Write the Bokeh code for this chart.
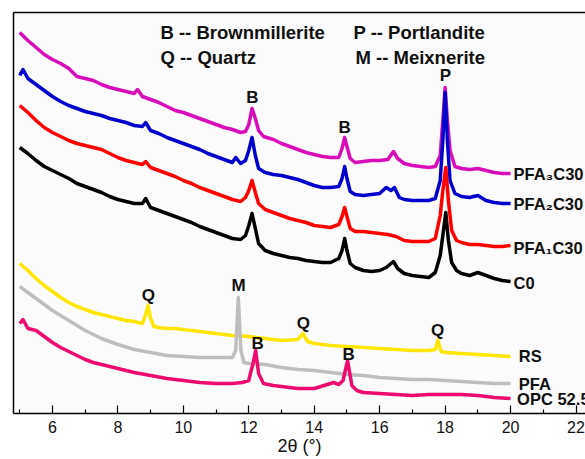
from bokeh.plotting import figure
from bokeh.models import FixedTicker, LinearAxis
from bokeh.core.properties import value
from bokeh.embed import file_html
from bokeh.resources import INLINE

# XRD patterns: 2θ (deg) and offset intensity (a.u.)
pfa3c30_x = [5.0, 5.25, 5.5, 5.75, 6.0, 6.25, 6.5, 6.75, 7.0, 7.25, 7.5, 7.75, 8.0, 8.25, 8.5, 8.6, 8.75,
             9.0, 9.25, 9.5, 9.75, 10.0, 10.25, 10.5, 10.75, 11.0, 11.25, 11.5, 11.75, 11.9, 12.0, 12.1,
             12.2, 12.3, 12.45, 12.75, 13.0, 13.25, 13.5, 13.75, 14.0, 14.25, 14.5, 14.75, 14.85, 14.93,
             15.0, 15.1, 15.25, 15.5, 15.75, 16.0, 16.25, 16.42, 16.55, 16.75, 17.0, 17.25, 17.5, 17.7,
             17.85, 17.93, 18.0, 18.07, 18.15, 18.3, 18.5, 18.75, 19.0, 19.25, 19.5, 19.75, 20.0]
pfa3c30_y = [381, 373, 366, 359, 354, 350, 345, 337, 335, 333, 329, 326, 324, 322, 320, 324, 317,
             314, 311, 307, 303, 301, 298, 295, 292, 289, 286, 284, 281, 282, 289, 305,
             295, 283, 277, 274, 270, 267, 264, 261, 259, 257, 256, 256, 265, 276,
             267, 255, 251, 252, 253, 253, 254, 262, 255, 250, 248, 247, 246, 247,
             258, 293, 326, 293, 263, 247, 245, 244, 245, 243, 241, 240, 240]

pfa2c30_x = [5.0, 5.1, 5.25, 5.5, 5.75, 6.0, 6.25, 6.5, 6.75, 7.0, 7.25, 7.5, 7.75, 8.0, 8.25, 8.5, 8.75,
             8.85, 9.0, 9.25, 9.5, 9.75, 10.0, 10.25, 10.5, 10.75, 11.0, 11.25, 11.5, 11.6, 11.75, 11.9,
             12.0, 12.1, 12.2, 12.3, 12.5, 12.75, 13.0, 13.25, 13.5, 13.75, 14.0, 14.25, 14.5, 14.75,
             14.85, 14.93, 15.0, 15.1, 15.25, 15.5, 15.75, 16.0, 16.2, 16.35, 16.45, 16.6, 16.75, 17.0,
             17.25, 17.5, 17.7, 17.85, 17.93, 18.0, 18.07, 18.15, 18.3, 18.5, 18.75, 19.0, 19.25, 19.5,
             19.75, 20.0]
pfa2c30_y = [338, 344, 335, 329, 323, 317, 312, 308, 305, 302, 300, 298, 295, 293, 291, 288, 287,
             291, 283, 280, 276, 273, 270, 267, 264, 260, 257, 254, 251, 256, 250, 253,
             263, 276, 258, 245, 241, 239, 238, 236, 234, 231, 228, 226, 226, 227,
             235, 247, 235, 222, 219, 218, 219, 220, 226, 223, 226, 216, 214, 213,
             213, 213, 215, 233, 273, 321, 273, 233, 220, 217, 216, 218, 213, 211,
             210, 210]

pfa1c30_x = [5.0, 5.25, 5.5, 5.75, 6.0, 6.25, 6.5, 6.75, 7.0, 7.25, 7.5, 7.75, 8.0, 8.25, 8.5, 8.75,
             8.85, 9.0, 9.25, 9.5, 9.75, 10.0, 10.25, 10.5, 10.75, 11.0, 11.25, 11.5, 11.75, 11.9,
             12.0, 12.1, 12.2, 12.3, 12.5, 12.75, 13.0, 13.25, 13.5, 13.75, 14.0, 14.25, 14.5, 14.75,
             14.85, 14.93, 15.0, 15.1, 15.25, 15.5, 15.75, 16.0, 16.25, 16.5, 16.75, 17.0, 17.25, 17.5,
             17.7, 17.85, 17.93, 18.02, 18.1, 18.2, 18.35, 18.5, 18.75, 19.0, 19.25, 19.5, 19.75, 20.0]
pfa1c30_y = [308, 301, 293, 286, 281, 277, 273, 270, 268, 266, 264, 260, 256, 253, 251, 249,
             252, 246, 243, 240, 237, 233, 230, 226, 223, 220, 217, 214, 212, 216,
             223, 233, 221, 210, 204, 201, 198, 195, 193, 191, 188, 187, 186, 189,
             197, 206, 197, 185, 182, 182, 181, 180, 179, 177, 173, 172, 172, 172,
             175, 198, 223, 246, 213, 183, 173, 171, 169, 169, 168, 167, 167, 168]

c0_x = [5.0, 5.25, 5.5, 5.75, 6.0, 6.25, 6.5, 6.75, 7.0, 7.25, 7.5, 7.75, 8.0, 8.25, 8.5, 8.75,
        8.85, 9.0, 9.25, 9.5, 9.75, 10.0, 10.25, 10.5, 10.75, 11.0, 11.25, 11.5, 11.75, 11.9,
        12.0, 12.1, 12.2, 12.3, 12.5, 12.75, 13.0, 13.25, 13.5, 13.75, 14.0, 14.25, 14.5, 14.75,
        14.85, 14.93, 15.0, 15.1, 15.25, 15.5, 15.75, 16.0, 16.2, 16.42, 16.55, 16.75, 17.0, 17.25,
        17.5, 17.7, 17.85, 17.93, 18.02, 18.1, 18.2, 18.35, 18.5, 18.75, 19.0, 19.25, 19.5, 19.75, 20.0]
c0_y = [266, 260, 253, 247, 243, 239, 235, 230, 227, 224, 221, 217, 214, 212, 210, 210,
        215, 206, 203, 200, 197, 194, 191, 187, 184, 181, 178, 175, 174, 178,
        188, 200, 185, 170, 163, 160, 158, 156, 155, 153, 152, 151, 151, 155,
        163, 175, 163, 150, 146, 143, 142, 143, 146, 152, 145, 140, 138, 137,
        136, 141, 158, 178, 201, 173, 151, 143, 140, 138, 141, 138, 135, 133, 132]

rs_x = [5.0, 5.25, 5.5, 5.75, 6.0, 6.25, 6.5, 6.75, 7.0, 7.25, 7.5, 7.75, 8.0, 8.25, 8.5, 8.75,
        8.85, 8.92, 9.0, 9.1, 9.25, 9.5, 9.75, 10.0, 10.5, 11.0, 11.5, 12.0, 12.5, 13.0, 13.5,
        13.65, 13.8, 14.0, 14.5, 15.0, 15.5, 16.0, 16.5, 17.0, 17.5, 17.7, 17.78, 17.88, 18.0,
        18.5, 19.0, 19.5, 20.0]
rs_y = [150, 143, 135, 128, 122, 116, 111, 107, 104, 101, 99, 97, 95, 93, 92, 90,
        99, 108, 95, 87, 86, 85, 85, 84, 82, 80, 78, 77, 75, 73, 74,
        80, 72, 70, 68, 67, 66, 65, 64, 63, 63, 64, 73, 62, 61,
        60, 59, 58, 57]

pfa_x = [5.0, 5.25, 5.5, 5.75, 6.0, 6.25, 6.5, 6.75, 7.0, 7.25, 7.5, 7.75, 8.0, 8.5, 9.0, 9.5,
         10.0, 10.5, 11.0, 11.5, 11.6, 11.68, 11.76, 11.85, 12.0, 12.5, 13.0, 13.5, 14.0, 14.5,
         15.0, 15.5, 16.0, 16.5, 17.0, 17.5, 18.0, 18.5, 19.0, 19.5, 20.0]
pfa_y = [127, 121, 115, 109, 103, 98, 93, 88, 83, 79, 75, 72, 69, 64, 61, 58,
         57, 56, 56, 56, 63, 116, 63, 51, 50, 49, 46, 44, 43, 41,
         39, 38, 36, 35, 34, 34, 33, 32, 31, 30, 30]

opc_x = [5.0, 5.1, 5.25, 5.5, 5.75, 6.0, 6.25, 6.5, 6.75, 7.0, 7.25, 7.5, 8.0, 8.5, 9.0, 9.5,
         10.0, 10.5, 11.0, 11.5, 11.8, 12.0, 12.05, 12.13, 12.21, 12.3, 12.45, 12.75, 13.0, 13.5,
         14.0, 14.3, 14.59, 14.75, 14.88, 15.02, 15.15, 15.3, 15.5, 16.0, 16.5, 17.0, 17.5, 18.0,
         18.5, 19.0, 19.5, 20.0]
opc_y = [90, 94, 85, 83, 77, 71, 66, 62, 58, 54, 51, 49, 45, 41, 38, 35,
         33, 31, 30, 30, 31, 33, 40, 50, 63, 40, 30, 28, 27, 25,
         25, 28, 31, 29, 33, 53, 28, 23, 21, 20, 19, 18, 19, 19,
         19, 18, 16, 15]

series_names = ["PFA\u2083C30", "PFA\u2082C30", "PFA\u2081C30", "C0", "RS", "PFA", "OPC 52.5"]
series_colors = ["#D80DB9", "#0000CC", "#FF0000", "#000000", "#FFE600", "#BEBEBE", "#EE0A6E"]
series_x = [pfa3c30_x, pfa2c30_x, pfa1c30_x, c0_x, rs_x, pfa_x, opc_x]
series_y = [pfa3c30_y, pfa2c30_y, pfa1c30_y, c0_y, rs_y, pfa_y, opc_y]

# series name labels at the right end of each trace
name_x = [20.09, 20.09, 20.09, 20.09, 20.25, 20.25, 20.20]
name_y = [240, 210, 166, 131, 58, 30, 15]

# phase markers above the reflections
phase_text = ["B", "B", "P", "Q", "M", "Q", "Q", "B", "B"]
phase_x = [12.11, 14.93, 18.01, 8.93, 11.69, 13.67, 17.77, 12.27, 15.05]
phase_y = [316, 286, 338, 118, 128, 90, 83, 70, 59]

key_text = ["B -- Brownmillerite", "Q -- Quartz", "P -- Portlandite", "M -- Meixnerite"]
key_x = [9.30, 9.30, 15.20, 15.26]
key_y = [381, 356, 381, 356]

p = figure(width=585, height=459, x_range=(4.81, 22.29), y_range=(0, 401),
           output_backend="svg", toolbar_location=None,
           min_border_left=13, min_border_right=0, min_border_top=12, min_border_bottom=46)
p.background_fill_color = "#FBFBFB"
p.border_fill_color = "#FFFFFF"
p.outline_line_color = None
p.xgrid.visible = False
p.ygrid.visible = False

for xs, ys, c in zip(series_x, series_y, series_colors):
    p.line(xs, ys, line_color=c, line_width=3.5, line_join="round")

font = value("Liberation Sans")
p.text(x=name_x, y=name_y, text=series_names, text_font=font, text_font_style="bold",
       text_font_size="16.5px", text_baseline="middle", text_align="left", text_color="#111111")
p.text(x=phase_x, y=phase_y, text=phase_text, text_font=font, text_font_style="bold",
       text_font_size="17px", text_baseline="middle", text_align="center", text_color="#111111")
p.text(x=key_x, y=key_y, text=key_text, text_font=font, text_font_style="bold",
       text_font_size="18.5px", text_baseline="middle", text_align="left", text_color="#111111")

xa = p.xaxis[0]
xa.ticker = FixedTicker(ticks=[6, 8, 10, 12, 14, 16, 18, 20, 22],
                        minor_ticks=[5, 7, 9, 11, 13, 15, 17, 19, 21])
xa.major_tick_in = 8
xa.major_tick_out = 0
xa.minor_tick_in = 4
xa.minor_tick_out = 0
xa.axis_line_width = 1.5
xa.major_tick_line_width = 1.2
xa.minor_tick_line_width = 1.2
xa.major_label_text_font = "Liberation Sans"
xa.major_label_text_font_size = "16px"
xa.major_label_text_color = "#111111"
xa.major_label_standoff = 7
xa.axis_label = "2θ (°)"
xa.axis_label_text_font = "Liberation Sans"
xa.axis_label_text_font_style = "normal"
xa.axis_label_text_font_size = "18px"
xa.axis_label_text_color = "#111111"
xa.axis_label_standoff = 0

ya = p.yaxis[0]
ya.ticker = FixedTicker(ticks=[])
ya.major_tick_in = 0
ya.major_tick_out = 0
ya.minor_tick_in = 0
ya.minor_tick_out = 0
ya.major_label_standoff = 0
ya.axis_line_width = 1.5

top = LinearAxis(ticker=FixedTicker(ticks=[]), major_tick_in=0, major_tick_out=0,
                 minor_tick_in=0, minor_tick_out=0, major_label_standoff=0,
                 axis_line_width=1.5)
p.add_layout(top, "above")

open("out.html", "w").write(file_html(p, INLINE))
